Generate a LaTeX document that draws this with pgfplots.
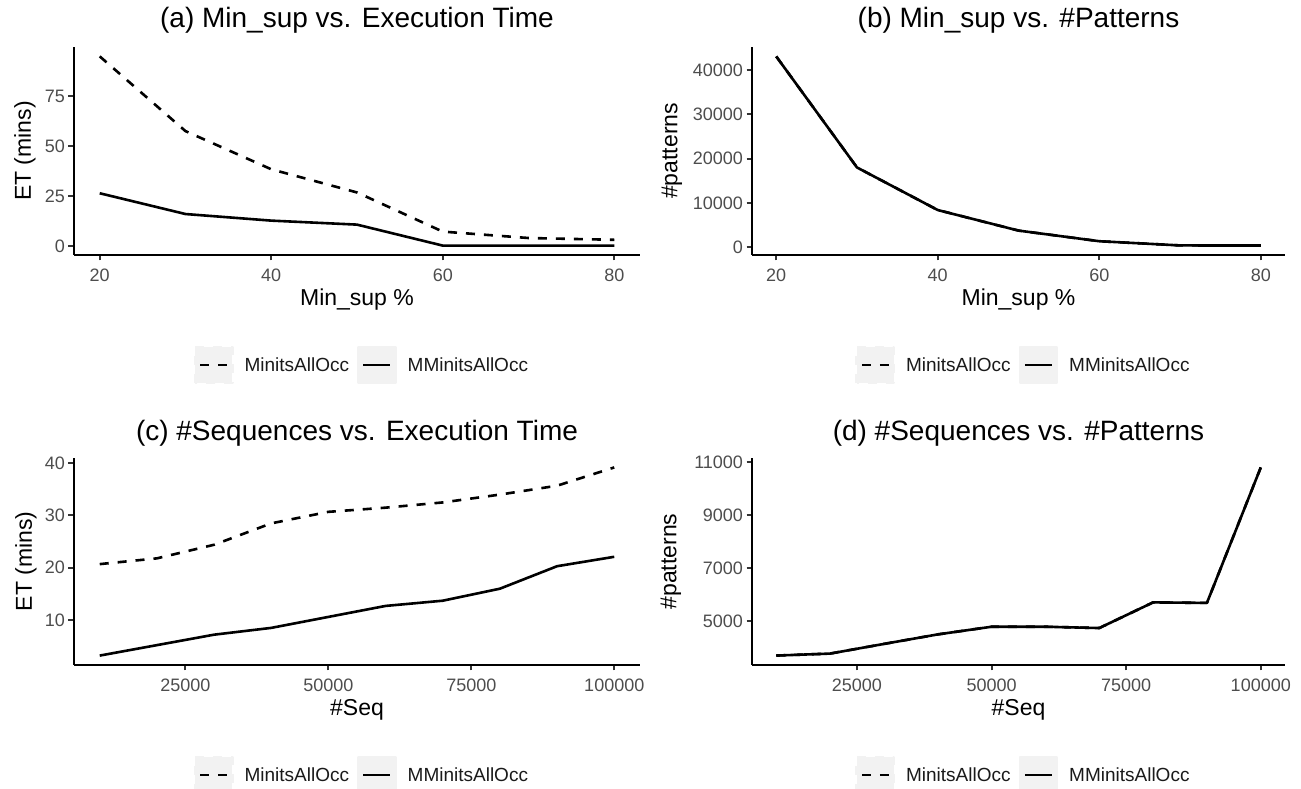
\documentclass[border=0pt]{standalone}
\usepackage{pgfplots}
\pgfplotsset{compat=1.18}
\usepackage{fontspec}
\setmainfont{Liberation Sans}
\definecolor{tickgray}{HTML}{4D4D4D}
\definecolor{tickline}{HTML}{333333}
\definecolor{keybg}{HTML}{F2F2F2}
\definecolor{legtext}{HTML}{1A1A1A}

\pgfplotsset{
  gg/.style={
    scale only axis,
    axis lines=left,
    axis line style={-, line width=2.2pt, black},
    tick align=outside,
    major tick length=5.5pt,
    every tick/.style={line width=2pt, color=tickline},
    tick label style={font=\fontsize{18}{20}\selectfont, text=tickgray},
    xticklabel style={yshift=-5pt},
    scaled ticks=false,
    label style={font=\fontsize{23}{26}\selectfont},
    title style={font=\fontsize{28}{32}\selectfont, at={(axis description cs:0.5,1)}, anchor=base, yshift=13pt},
    xlabel style={at={(axis description cs:0.5,0)}, anchor=base, yshift=-51pt},
    legend columns=2,
    legend style={draw=none, fill=none, at={(axis description cs:0.5,0)}, anchor=center, yshift=-110pt, xshift=4pt,
      font=\fontsize{19}{22}\selectfont, text=legtext,
      /tikz/every even column/.append style={column sep=8pt},
      nodes={inner sep=0pt}},
    legend cell align=left,
    legend image code/.code={\fill[keybg] (0pt,-18pt) rectangle (37pt,18pt);
      \draw[##1] (5pt,0pt) -- (32pt,0pt); \path (48pt,0pt);},
  },
  dsh/.style={black, line width=2.6pt, dash pattern=on 9pt off 9pt, line join=round},
  sld/.style={black, line width=2.6pt, line join=round},
}

\begin{document}
\begin{tikzpicture}[x=1pt,y=1pt]
\path[use as bounding box] (0,0) rectangle (1301,789);

% (a)
\begin{axis}[gg, at={(74pt,534pt)}, anchor=south west, width=566pt, height=208pt,
  xmin=17, xmax=83, ymin=-4.4, ymax=99.7,
  xtick={20,40,60,80}, xticklabels={20,40,60,80},
  ytick={0,25,50,75}, yticklabels={0,25,50,75},
  title={(a) Min\_sup vs. Execution Time},
  xlabel={Min\_sup \%}, ylabel={ET (mins)},
  ylabel style={at={(axis description cs:0,0.5)}, anchor=center, yshift=49pt}]
\addplot[dsh] coordinates {(20,95) (30,57.6) (40,38.5) (50,26.9) (60,7.3) (70,4.1) (80,3.2)};
\addlegendentry{MinitsAllOcc}
\addplot[sld] coordinates {(20,26.5) (30,16.1) (40,12.8) (50,10.8) (60,0.3) (70,0.3) (80,0.3)};
\addlegendentry{MMinitsAllOcc}
\end{axis}

% (b)
\begin{axis}[gg, at={(752pt,534pt)}, anchor=south west, width=533pt, height=208pt,
  xmin=17, xmax=83, ymin=-1760, ymax=45200,
  xtick={20,40,60,80}, xticklabels={20,40,60,80},
  ytick={0,10000,20000,30000,40000}, yticklabels={0,10000,20000,30000,40000},
  title={(b) Min\_sup vs. \#Patterns},
  xlabel={Min\_sup \%}, ylabel={\#patterns},
  ylabel style={at={(axis description cs:0,0.5)}, anchor=center, yshift=80pt}]
\addplot[dsh] coordinates {(20,43070) (30,18000) (40,8390) (50,3750) (60,1350) (70,400) (80,375)};
\addlegendentry{MinitsAllOcc}
\addplot[sld] coordinates {(20,43070) (30,18000) (40,8390) (50,3750) (60,1350) (70,400) (80,375)};
\addlegendentry{MMinitsAllOcc}
\end{axis}

% (c)
\begin{axis}[gg, at={(74pt,124pt)}, anchor=south west, width=566pt, height=207pt,
  xmin=5500, xmax=104500, ymin=1.4, ymax=41.0,
  xtick={25000,50000,75000,100000}, xticklabels={25000,50000,75000,100000},
  ytick={10,20,30,40}, yticklabels={10,20,30,40},
  title={(c) \#Sequences vs. Execution Time},
  title style={yshift=-2pt},
  xlabel={\#Seq}, ylabel={ET (mins)},
  ylabel style={at={(axis description cs:0,0.5)}, anchor=center, yshift=48pt}]
\addplot[dsh] coordinates {(10000,20.7) (20000,21.8) (30000,24.4) (40000,28.5) (50000,30.7) (60000,31.5) (70000,32.5) (80000,34.0) (90000,35.7) (100000,39.2)};
\addlegendentry{MinitsAllOcc}
\addplot[sld] coordinates {(10000,3.2) (20000,5.2) (30000,7.2) (40000,8.5) (50000,10.6) (60000,12.7) (70000,13.7) (80000,16.0) (90000,20.3) (100000,22.1)};
\addlegendentry{MMinitsAllOcc}
\end{axis}

% (d)
\begin{axis}[gg, at={(752pt,124pt)}, anchor=south west, width=533pt, height=207pt,
  xmin=5500, xmax=104500, ymin=3344, ymax=11166,
  xtick={25000,50000,75000,100000}, xticklabels={25000,50000,75000,100000},
  ytick={5000,7000,9000,11000}, yticklabels={5000,7000,9000,11000},
  title={(d) \#Sequences vs. \#Patterns},
  title style={yshift=-2pt},
  xlabel={\#Seq}, ylabel={\#patterns},
  ylabel style={at={(axis description cs:0,0.5)}, anchor=center, yshift=81pt}]
\addplot[dsh] coordinates {(10000,3700) (20000,3775) (30000,4140) (40000,4500) (50000,4790) (60000,4790) (70000,4740) (80000,5710) (90000,5690) (100000,10810)};
\addlegendentry{MinitsAllOcc}
\addplot[sld] coordinates {(10000,3700) (20000,3775) (30000,4140) (40000,4500) (50000,4790) (60000,4790) (70000,4740) (80000,5710) (90000,5690) (100000,10810)};
\addlegendentry{MMinitsAllOcc}
\end{axis}
\end{tikzpicture}
\end{document}
